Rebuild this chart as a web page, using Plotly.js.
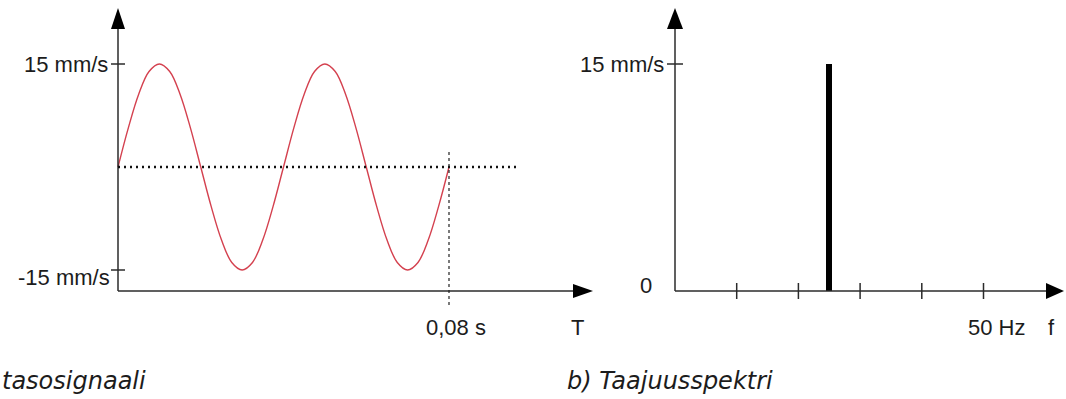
<!DOCTYPE html>
<html><head><meta charset="utf-8">
<script src="https://cdn.plot.ly/plotly-3.0.1.min.js"></script>
<style>html,body{margin:0;padding:0;background:#fff;} #chart{width:1066px;height:399px;}</style>
</head><body><div id="chart"></div>
<script>
// ---------------- data ----------------
const timeS = [0,0.0025,0.005,0.0075,0.01,0.0125,0.015,0.0175,0.02,0.0225,0.025,0.0275,0.03,0.0325,0.035,0.0375,0.04,
               0.0425,0.045,0.0475,0.05,0.0525,0.055,0.0575,0.06,0.0625,0.065,0.0675,0.07,0.0725,0.075,0.0775,0.08];
const velocityMmS = [0,5.7,10.6,13.9,15,13.9,10.6,5.7,0,-5.7,-10.6,-13.9,-15,-13.9,-10.6,-5.7,0,
                     5.7,10.6,13.9,15,13.9,10.6,5.7,0,-5.7,-10.6,-13.9,-15,-13.9,-10.6,-5.7,0];
const signalTicks = [15, -15];
const signalTickLabels = ['15 mm/s', '-15 mm/s'];
const timeMarker = 0.08;
const timeMarkerLabel = '0,08 s';
const spectrumFreqHz = [25];
const spectrumAmpMmS = [15];
const freqTicks = [10, 20, 30, 40, 50];
const freqLabelTick = 50;
const freqLabel = '50 Hz';
const spectrumYTicks = [15, 0];
const spectrumYLabels = ['15 mm/s', '0'];
const axisNames = ['T', 'f'];
const captions = ['tasosignaali', 'b) Taajuusspektri'];

// ---------------- geometry ----------------
const W = 1066, H = 399, split = 0.56;
// left panel pixel anchors
const L = {x0: 118, xRef: 449, yTop: 64, yBot: 270};
const lppx = (L.xRef - L.x0) / timeMarker;
const lppy = (L.yBot - L.yTop) / (signalTicks[0] - signalTicks[1]);
const lyZero = L.yTop + signalTicks[0] * lppy;
const lx = px => (px - L.x0) / lppx;
const ly = py => (lyZero - py) / lppy;
// right panel pixel anchors
const R = {x0: 675, xRef: 983.5, y0: 291, yTop: 64};
const rppx = (R.xRef - R.x0) / freqLabelTick;
const rppy = (R.y0 - R.yTop) / spectrumYTicks[0];
const rx = px => (px - R.x0) / rppx;
const ry = py => (R.y0 - py) / rppy;

const AX = '#2b2b2b', TXT = '#1c1c1c';
const lblFont = {family: 'Liberation Sans, Arial, sans-serif', size: 22, color: TXT};
const capFont = {family: 'DejaVu Sans, sans-serif', size: 24, color: TXT, style: 'italic'};

const hidden = {showgrid: false, zeroline: false, showticklabels: false, ticks: '', showline: false, fixedrange: true};

const traces = [
  {type: 'scatter', mode: 'lines', x: timeS, y: velocityMmS, xaxis: 'x', yaxis: 'y',
   line: {color: '#d4414f', width: 1.4, shape: 'spline'}, hoverinfo: 'skip'},
  {type: 'bar', x: spectrumFreqHz, y: spectrumAmpMmS, xaxis: 'x2', yaxis: 'y2',
   width: 6 / rppx, marker: {color: '#000', line: {width: 0}}, hoverinfo: 'skip'}
];

const shapes = [];
function line(xr, yr, x0, y0, x1, y1, extra) {
  shapes.push(Object.assign({type: 'line', xref: xr, yref: yr, x0, y0, x1, y1,
    line: {color: AX, width: 1.5}}, extra || {}));
}
function tri(xr, yr, xa, ya, path) {
  shapes.push({type: 'path', xref: xr, yref: yr, xsizemode: 'pixel', ysizemode: 'pixel',
    xanchor: xa, yanchor: ya, path, fillcolor: '#000', line: {width: 0}});
}
// left panel axes
const lAxisY = ly(291);
line('x', 'y', 0, lAxisY, 0, ly(28));
line('x', 'y', 0, lAxisY, lx(574), lAxisY);
tri('x', 'y', 0, ly(29), 'M-7,0 L7,0 L0,21 Z');
tri('x', 'y', lx(573), lAxisY, 'M0,-7 L0,7 L20,0 Z');
signalTicks.forEach(v => shapes.push({type: 'line', xref: 'x', yref: 'y', xsizemode: 'pixel', xanchor: 0,
  x0: -7, x1: 7, y0: v, y1: v, line: {color: AX, width: 1.5}}));
line('x', 'y', 0, 0, lx(517), 0, {line: {color: '#111', width: 2.5, dash: '2px,4px'}});
line('x', 'y', timeMarker, ly(152), timeMarker, ly(306), {line: {color: '#222', width: 1.2, dash: '3px,3px'}});
// right panel axes
line('x2', 'y2', 0, 0, 0, ry(28));
line('x2', 'y2', 0, 0, rx(1047), 0);
tri('x2', 'y2', 0, ry(29), 'M-8,0 L8,0 L0,21 Z');
tri('x2', 'y2', rx(1046), 0, 'M0,-8 L0,8 L18,0 Z');
shapes.push({type: 'line', xref: 'x2', yref: 'y2', xsizemode: 'pixel', xanchor: 0,
  x0: -8, x1: 8, y0: spectrumYTicks[0], y1: spectrumYTicks[0], line: {color: AX, width: 1.5}});
freqTicks.forEach(f => shapes.push({type: 'line', xref: 'x2', yref: 'y2', ysizemode: 'pixel', yanchor: 0,
  x0: f, x1: f, y0: -8, y1: 8, line: {color: AX, width: 1.5}}));

// annotations
const ann = [];
const leftLabelShift = [{xs: -8, ys: 0}, {xs: -6, ys: -7}];
signalTicks.forEach((v, i) => ann.push({xref: 'x', yref: 'y', x: 0, y: v, text: signalTickLabels[i],
  xanchor: 'right', yanchor: 'middle', xshift: leftLabelShift[i].xs, yshift: leftLabelShift[i].ys,
  showarrow: false, font: lblFont}));
const rightLabelShift = [{xs: -9, ys: 0}, {xs: -21, ys: 6}];
spectrumYTicks.forEach((v, i) => ann.push({xref: 'x2', yref: 'y2', x: 0, y: v, text: spectrumYLabels[i],
  xanchor: 'right', yanchor: 'middle', xshift: rightLabelShift[i].xs, yshift: rightLabelShift[i].ys,
  showarrow: false, font: lblFont}));
ann.push({xref: 'x', yref: 'y', x: timeMarker, y: lAxisY, text: timeMarkerLabel, xanchor: 'center', yanchor: 'middle',
  xshift: 7, yshift: -36, showarrow: false, font: lblFont});
ann.push({xref: 'x', yref: 'y', x: lx(577), y: lAxisY, text: axisNames[0], xanchor: 'center', yanchor: 'middle',
  yshift: -36, showarrow: false, font: lblFont});
ann.push({xref: 'x2', yref: 'y2', x: freqLabelTick, y: 0, text: freqLabel, xanchor: 'center', yanchor: 'middle',
  xshift: 13, yshift: -36, showarrow: false, font: lblFont});
ann.push({xref: 'x2', yref: 'y2', x: rx(1051), y: 0, text: axisNames[1], xanchor: 'center', yanchor: 'middle',
  yshift: -36, showarrow: false, font: lblFont});
ann.push({xref: 'paper', yref: 'paper', x: 0, y: 1 - 381 / H, text: captions[0], xanchor: 'left', yanchor: 'middle',
  showarrow: false, font: capFont});
ann.push({xref: 'paper', yref: 'paper', x: 565 / W, y: 1 - 381 / H, text: captions[1], xanchor: 'left', yanchor: 'middle',
  showarrow: false, font: capFont});

const layout = {
  width: W, height: H, margin: {l: 0, r: 0, t: 0, b: 0, pad: 0},
  paper_bgcolor: '#fff', plot_bgcolor: 'rgba(0,0,0,0)', showlegend: false,
  xaxis: Object.assign({domain: [0, split], range: [lx(0), lx(split * W)], anchor: 'y'}, hidden),
  yaxis: Object.assign({domain: [0, 1], range: [ly(H), ly(0)], anchor: 'x'}, hidden),
  xaxis2: Object.assign({domain: [split, 1], range: [rx(split * W), rx(W)], anchor: 'y2'}, hidden),
  yaxis2: Object.assign({domain: [0, 1], range: [ry(H), ry(0)], anchor: 'x2'}, hidden),
  shapes, annotations: ann, bargap: 0
};
Plotly.newPlot('chart', traces, layout, {displayModeBar: false, staticPlot: true});
</script></body></html>
